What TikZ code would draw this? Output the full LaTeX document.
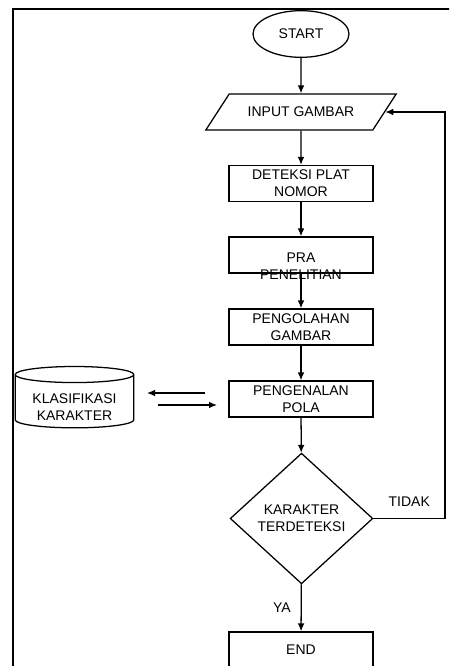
\documentclass[tikz,border=0pt]{standalone}
\usepackage{fontspec}
\setmainfont{Liberation Sans}
\usetikzlibrary{shapes.geometric,arrows.meta}
\tikzset{
  box/.style={draw, rectangle, minimum width=108pt, minimum height=27pt,
    align=center, inner sep=1pt},
  term/.style={draw, ellipse, minimum width=72pt, minimum height=35pt},
  io/.style={draw, trapezium, trapezium left angle=45, trapezium right angle=135,
    trapezium stretches=true, minimum width=143pt, minimum height=27pt},
  decide/.style={draw, diamond, minimum width=107pt, minimum height=98pt,
    inner sep=0pt, align=center},
  store/.style={draw, cylinder, shape border rotate=90, aspect=0.14,
    minimum width=89pt, minimum height=46pt, inner sep=0pt},
}
\begin{document}
\begin{tikzpicture}[>={Latex[length=6pt,width=5pt]}, x=0.75pt, y=-0.75pt,
    line width=0.95pt, font=\fontsize{10.5}{12.7}\selectfont]
  \useasboundingbox (0,0) rectangle (449,666);
  \clip (0,0) rectangle (449,666);
  \draw[line width=1.5pt] (13,9) rectangle (480,700);
  %
  \node[term] (start) at (301,34) {START};
  \node[io] (input) at (301,112) {INPUT GAMBAR};
  \node[box] (deteksi) at (301,183.5) {DETEKSI PLAT\\NOMOR};
  \node[box] (pra) at (301,255) {};
  \node[align=center, inner sep=0pt] (pratext) at (301,266) {PRA\\PENELITIAN};
  \node[box] (olah) at (301,327) {PENGOLAHAN\\GAMBAR};
  \node[box] (kenal) at (301,399) {PENGENALAN\\POLA};
  \node[decide] (cek) at (301.5,518.5) {KARAKTER\\TERDETEKSI};
  \node[box] (end) at (301,650) {END};
  \node[store] (klas) at (74.5,401.5) {\hspace*{86pt}};
  \node[align=center, inner sep=0pt] (klastext) at (74.5,407.5) {KLASIFIKASI\\KARAKTER};
  %
  \draw[->] (start) -- (input);
  \draw[->] (input) -- (deteksi);
  \draw[->] (deteksi) -- (pra);
  \draw[->] (pra) -- (olah);
  \draw[->] (olah) -- (kenal);
  \draw[->] (kenal) -- (cek);
  \draw[->] (cek) -- node[left=4pt] {YA} (end);
  %
  \coordinate (loop) at (445,518.5);
  \draw[->] (cek.east) -- node[above=5pt] {TIDAK} (loop) |- (input.east);
  %
  \coordinate (ka) at (205,393);
  \coordinate (kb) at (147,393);
  \coordinate (kc) at (158,405);
  \coordinate (kd) at (217,405);
  \draw[->] (ka) -- (kb);
  \draw[->] (kc) -- (kd);
\end{tikzpicture}
\end{document}
